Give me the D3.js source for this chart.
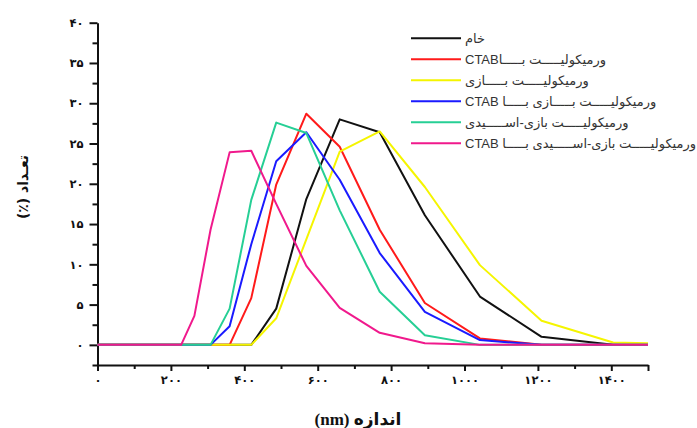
<!doctype html>
<html lang="fa">
  <head>
    <meta charset="utf-8">
    <title>size distribution</title>
    <script src="https://d3js.org/d3.v7.min.js"></script>
    <style>
      body { margin: 0; background: #fff; }
      svg { display: block; }
      .tick text { font-family: 'DejaVu Sans', sans-serif; font-weight: bold; font-size: 11.5px; fill: #111; }
      .domain, .tick line { stroke: #111; stroke-width: 2px; }
    </style>
  </head>
  <body>
    <div id="root"></div>
  </body>
  <script>

    //data: particle size bins (nm) and number (%)
    const sizes  = [0, 228, 264, 308, 360, 419, 487, 569, 660, 769, 892, 1042, 1210, 1405, 1500];
    const kham   = [0, 0, 0, 0, 0, 0, 4.5, 18.1, 28.0, 26.4, 16.1, 6.0, 1.0, 0, 0];
    const ctab   = [0, 0, 0, 0, 0, 5.8, 19.9, 28.7, 24.6, 14.3, 5.2, 0.8, 0, 0, 0];
    const bazi   = [0, 0, 0, 0, 0, 0, 3.3, 13.1, 24.0, 26.5, 19.6, 9.9, 3.0, 0.3, 0.2];
    const baziCtab = [0, 0, 0, 0, 2.3, 12.5, 22.8, 26.4, 20.5, 11.4, 4.1, 0.6, 0, 0, 0];
    const asidi  = [0, 0, 0, 0, 4.5, 18.0, 27.6, 26.3, 16.7, 6.6, 1.2, 0, 0, 0, 0];
    const asidiCtab = [0, 0, 3.6, 14.3, 23.9, 24.1, 17.5, 9.8, 4.6, 1.5, 0.2, 0, 0, 0, 0];

    const legendLabels = [
      "خام",
      "ورمیکولیـــــت بـــــاCTAB",
      "ورمیکولیـــــت بـــــازی",
      "ورمیکولیـــــت بـــــازی بـــــا CTAB",
      "ورمیکولیـــــت بازی-اســـــیدی",
      "ورمیکولیـــــت بازی-اســـــیدی بـــــا CTAB"
    ];
    const colors = ["#111111", "#ff1a1a", "#f5f500", "#1a1aff", "#26cf95", "#f0198c"];
    const xTicks = [0, 200, 400, 600, 800, 1000, 1200, 1400];
    const yTicks = [0, 5, 10, 15, 20, 25, 30, 35, 40];

    const series = [kham, ctab, bazi, baziCtab, asidi, asidiCtab];

    const width = 697;
    const height = 428;
    const fa = d => String(d).replace(/\d/g, c => "۰۱۲۳۴۵۶۷۸۹"[c]);

    const svg = d3.select("#root")
      .append("svg")
      .attr("width", width)
      .attr("height", height);

    const x = d3.scaleLinear().domain([0, 1500]).range([97.5, 648]);
    const y = d3.scaleLinear().domain([-2.5, 40]).range([365, 22.7]);

    //minor ticks first
    svg.append("g")
      .attr("transform", `translate(0,${y(-2.5)})`)
      .call(d3.axisBottom(x).tickValues(d3.range(100, 1500, 200)).tickSize(4).tickFormat(""))
      .select(".domain").remove();
    svg.append("g")
      .attr("transform", `translate(${x(0)},0)`)
      .call(d3.axisLeft(y).tickValues(d3.range(-2.5, 40, 5)).tickSize(5).tickFormat(""))
      .select(".domain").remove();

    //main axes
    svg.append("g")
      .attr("transform", `translate(0,${y(-2.5)})`)
      .call(d3.axisBottom(x).tickValues(xTicks.concat([1500])).tickSize(6).tickSizeOuter(0)
        .tickPadding(5).tickFormat(d => d === 1500 ? "" : fa(d)));
    svg.append("g")
      .attr("transform", `translate(${x(0)},0)`)
      .call(d3.axisLeft(y).tickValues(yTicks).tickSize(8).tickSizeOuter(0)
        .tickPadding(6).tickFormat(fa));

    //lines
    const line = d3.line()
      .x((d, i) => x(sizes[i]))
      .y(d => y(d));

    svg.selectAll("path.series")
      .data(series)
      .enter()
      .append("path")
      .attr("class", "series")
      .attr("d", line)
      .attr("fill", "none")
      .attr("stroke", (d, i) => colors[i])
      .attr("stroke-width", 2)
      .attr("stroke-linejoin", "round");

    //legend
    const legend = svg.selectAll("g.legend")
      .data(legendLabels)
      .enter()
      .append("g")
      .attr("class", "legend")
      .attr("transform", (d, i) => `translate(411,${38.3 + i * 21})`);

    legend.append("line")
      .attr("x1", 0).attr("x2", 50)
      .attr("stroke", (d, i) => colors[i])
      .attr("stroke-width", 2);

    legend.append("text")
      .attr("x", 54)
      .attr("y", 4.5)
      .attr("direction", "rtl")
      .attr("text-anchor", "end")
      .attr("font-family", "'Liberation Sans', 'DejaVu Sans', sans-serif")
      .attr("font-size", "13px")
      .attr("fill", "#333")
      .text(d => d);

    //axis titles
    svg.append("text")
      .attr("x", 358)
      .attr("y", 425)
      .attr("direction", "rtl")
      .attr("text-anchor", "middle")
      .attr("font-family", "'Liberation Serif', 'DejaVu Sans', serif")
      .attr("font-weight", "bold")
      .attr("font-size", "17px")
      .attr("fill", "#111")
      .text("اندازه (nm)");

    svg.append("text")
      .attr("transform", "translate(28,187) rotate(-90)")
      .attr("direction", "rtl")
      .attr("text-anchor", "middle")
      .attr("font-family", "'DejaVu Sans', sans-serif")
      .attr("font-weight", "bold")
      .attr("font-size", "14px")
      .attr("fill", "#111")
      .text("تعـداد (٪)");

  </script>
</html>
